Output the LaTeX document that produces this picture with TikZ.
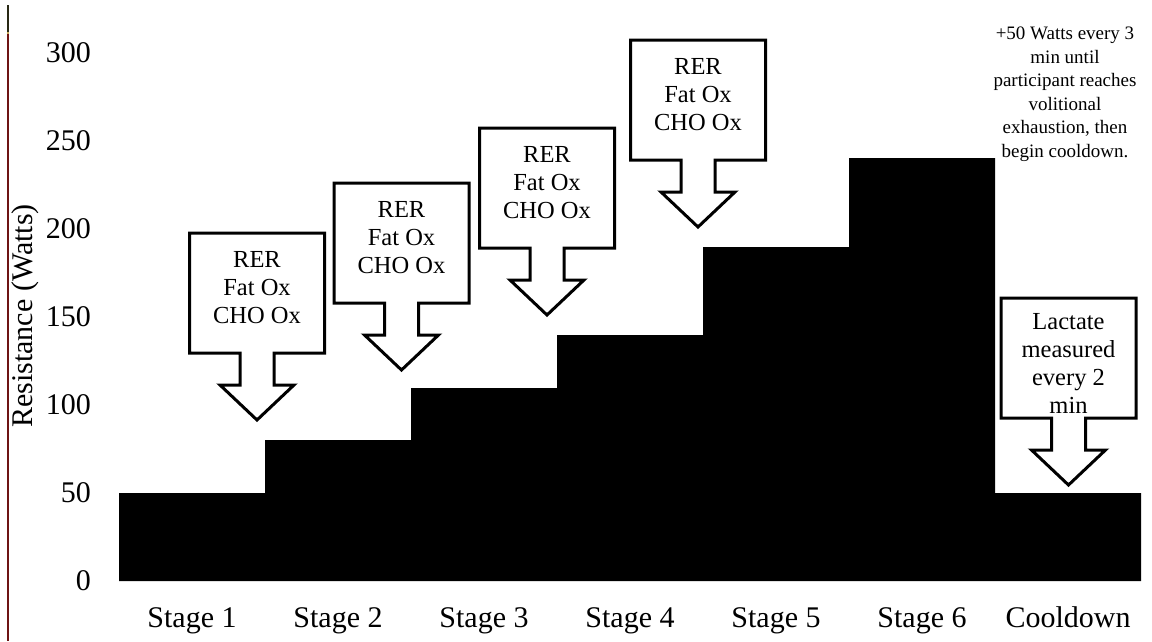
\documentclass[tikz,border=0pt]{standalone}
\usepackage{fontspec}
\setmainfont{Liberation Serif}
\begin{document}
\begin{tikzpicture}[x=1pt,y=-1pt,
  bar/.style={fill=black,draw=none},
  callbox/.style={draw=black,fill=white,line width=3pt,line join=miter},
  calltext/.style={align=center,font=\fontsize{24.5}{28}\selectfont,inner sep=0pt},
  tick/.style={anchor=east,font=\fontsize{30}{32}\selectfont,inner sep=0pt},
  stagelab/.style={anchor=base,font=\fontsize{30}{32}\selectfont,inner sep=0pt},
  note/.style={align=center,font=\fontsize{19}{23.5}\selectfont,inner sep=0pt}]
\useasboundingbox (0,0) rectangle (1152,641);
\fill[white] (0,0) rectangle (1152,641);
% left edge line
\draw[line width=1.5pt,color={rgb,255:red,110;green,20;blue,20}] (8,34) -- (8,641);
\draw[line width=1.5pt,color={rgb,255:red,200;green,170;blue,90}] (8,32) -- (8,34);
\draw[line width=1.5pt,color={rgb,255:red,40;green,40;blue,20}] (8,5) -- (8,32);
% bars
\fill[bar] (119,581) -- (119,493) -- (265,493) -- (265,440) -- (411,440) -- (411,388) -- (557,388) -- (557,335) -- (703,335) -- (703,247) -- (849,247) -- (849,158) -- (995,158) -- (995,493) -- (1141,493) -- (1141,581) -- cycle;
% tick labels
\foreach \v/\n in {0/t0,50/t50,100/t100,150/t150,200/t200,250/t250,300/t300}
  \node[tick] (\n) at (91,{581-1.76*\v}) {\v};
% y label
\node[rotate=90,font=\fontsize{30}{32}\selectfont,inner sep=0pt] (ylab) at (25,316) {Resistance (Watts)};
% stage labels
\node[stagelab] (s1) at (192,627) {Stage 1};
\node[stagelab] (s2) at (338,627) {Stage 2};
\node[stagelab] (s3) at (484,627) {Stage 3};
\node[stagelab] (s4) at (630,627) {Stage 4};
\node[stagelab] (s5) at (776,627) {Stage 5};
\node[stagelab] (s6) at (922,627) {Stage 6};
\node[stagelab] (s7) at (1068,627) {Cooldown};
% callouts
\newcommand{\mycallout}[5]{%
  \draw[callbox] ({#2-67.5},#3) -- ({#2+67.5},#3) -- ({#2+67.5},{#3+120}) -- ({#2+17},{#3+120}) -- ({#2+17},{#3+152}) -- ({#2+37},{#3+152}) -- (#2,{#3+187}) -- ({#2-37},{#3+152}) -- ({#2-17},{#3+152}) -- ({#2-17},{#3+120}) -- ({#2-67.5},{#3+120}) -- cycle;
  \node[calltext] (#1) at (#2,{#3+#5}) {#4};}
\mycallout{c1}{257}{233}{RER\\Fat Ox\\CHO Ox}{55}
\mycallout{c2}{401.5}{183}{RER\\Fat Ox\\CHO Ox}{55}
\mycallout{c3}{547}{128}{RER\\Fat Ox\\CHO Ox}{55}
\mycallout{c4}{698}{40}{RER\\Fat Ox\\CHO Ox}{55}
\mycallout{c5}{1068.5}{298}{Lactate\\measured\\every 2\\min}{65}
% note
\node[note] (note) at (1065,94) {+50 Watts every 3\\min until\\participant reaches\\volitional\\exhaustion, then\\begin cooldown.};
\end{tikzpicture}
\end{document}
